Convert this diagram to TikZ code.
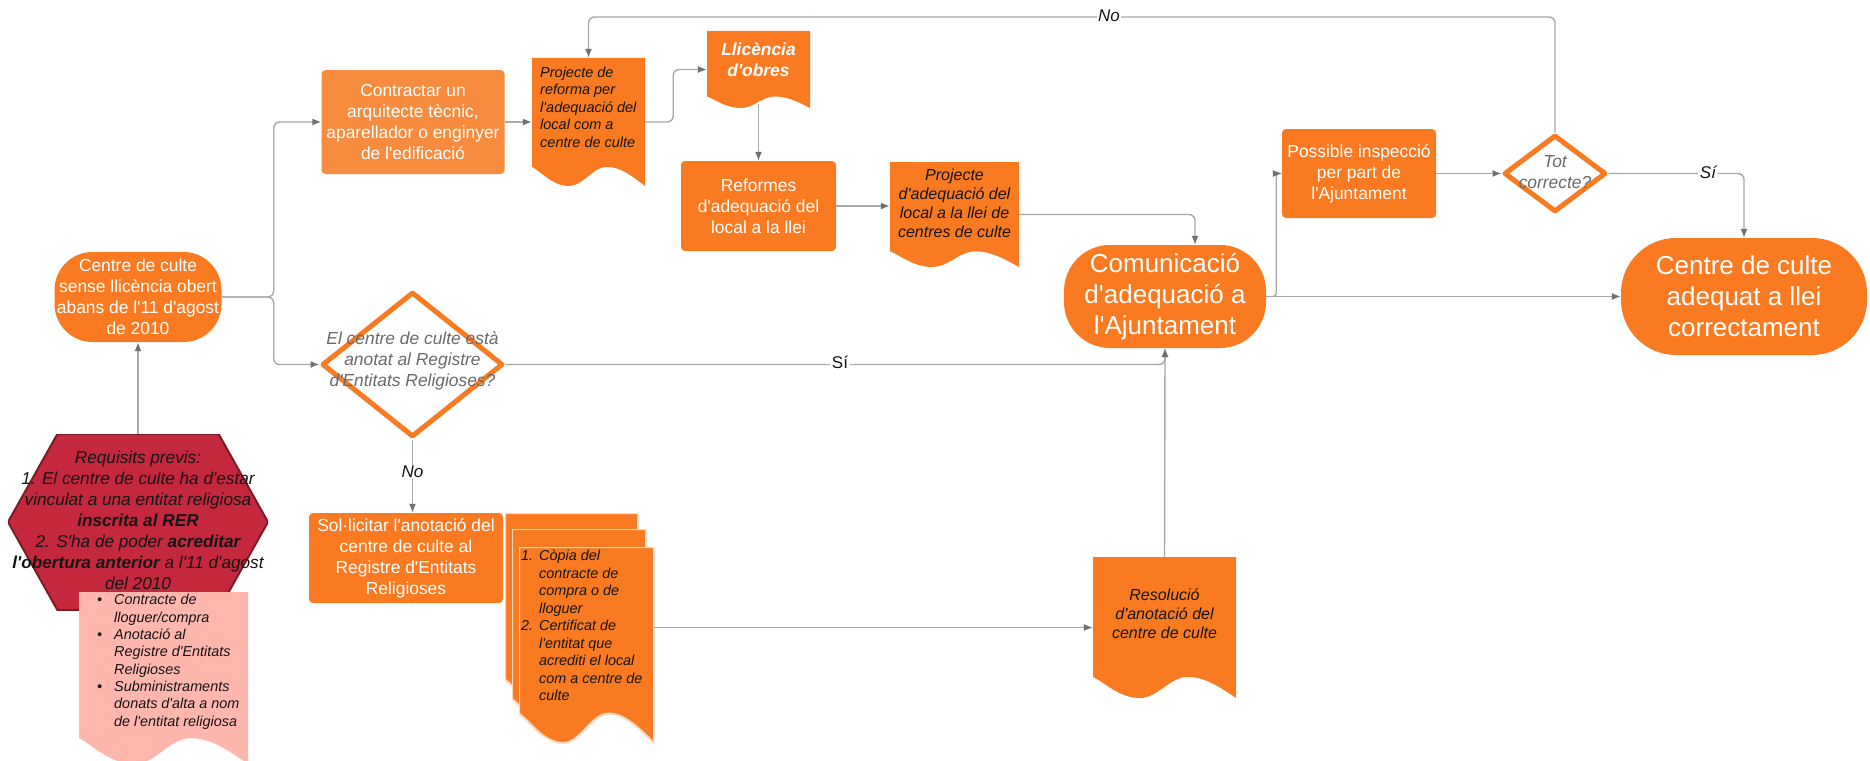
\documentclass[tikz,border=0pt]{standalone}
\usepackage{fontspec}
\setmainfont{Liberation Sans}
\newfontfamily\lsans{Liberation Sans}
\usetikzlibrary{shapes.geometric,arrows.meta,calc}
\definecolor{orM}{HTML}{F97A21}
\definecolor{orL}{HTML}{F78C3E}
\definecolor{hexred}{HTML}{C5283C}
\definecolor{hexdark}{HTML}{7D1A26}
\definecolor{pinkd}{HTML}{FFB6AD}
\definecolor{lineg}{HTML}{A8A8A8}
\definecolor{arrowg}{HTML}{6F6F6F}
\definecolor{txtg}{HTML}{6A6A6A}
\definecolor{txtd}{HTML}{141414}
\newcommand{\fs}[2]{\fontsize{#1}{#2}\selectfont}
\begin{document}
\begin{tikzpicture}[x=1pt,y=-1pt,
 font=\lsans\fs{17.4}{21},
 conn/.style={draw=lineg,line width=1.4pt,rounded corners=6pt,-{Latex[length=9pt,width=7pt,color=arrowg]}},
 box/.style={fill=orM,text=white,align=center,inner sep=0pt,rounded corners=4pt},
 term/.style={fill=orM,text=white,align=center,inner sep=0pt},
 dec/.style={diamond,draw=orM,line width=5pt,fill=white,inner sep=0pt,line join=round},
 dectext/.style={text=txtg,align=center,font=\lsans\itshape\fs{17.4}{21}},
 doc/.style={inner sep=0pt,path picture={\path[#1] let \p1=(path picture bounding box.south west), \p2=(path picture bounding box.north east), \n1={\x2-\x1}, \n2={0.15*(\y2-\y1)} in
   (\x1,\y2) -- (\x2,\y2) -- (\x2,\y1)
   .. controls ({\x2-0.12*\n1},{\y1+0.55*\n2}) and ({\x1+0.78*\n1},{\y1+\n2}) .. ({\x1+0.66*\n1},{\y1+\n2})
   .. controls ({\x1+0.54*\n1},{\y1+\n2}) and ({\x1+0.45*\n1},{\y1}) .. ({\x1+0.33*\n1},{\y1})
   .. controls ({\x1+0.18*\n1},{\y1}) and ({\x1+0.08*\n1},{\y1+0.75*\n2}) .. (\x1,{\y1+\n2}) -- cycle;}},
 doctext/.style={text=txtd,inner sep=0pt,font=\lsans\itshape\fs{14.5}{17.5}},
 lbl/.style={fill=white,inner sep=1.5pt,text=txtd},
 hexn/.style={inner sep=0pt,path picture={\filldraw[fill=hexred,draw=hexdark,line width=2pt] let \p1=(path picture bounding box.south west), \p2=(path picture bounding box.north east) in
   (\x1,{(\y1+\y2)/2}) -- ({\x1+0.19*(\x2-\x1)},\y2) -- ({\x2-0.19*(\x2-\x1)},\y2) -- (\x2,{(\y1+\y2)/2}) -- ({\x2-0.19*(\x2-\x1)},\y1) -- ({\x1+0.19*(\x2-\x1)},\y1) -- cycle;}},
]
\useasboundingbox (0,0) rectangle (1870,760);
\fill[white] (0,0) rectangle (1870,760);

% ---------- left column
\node[term,minimum width=167pt,minimum height=90pt,rounded corners=38pt] (start) at (138,297)
  {Centre de culte\\sense llicència obert\\abans de l'11 d'agost\\de 2010};
\node[hexn,minimum width=260pt,minimum height=176pt] (hex) at (138,522) {};
\node[text=txtd,align=center,inner sep=0pt,font=\lsans\itshape\fs{17.2}{21}] (hext) at (138,520)
  {Requisits previs:\\1. El centre de culte ha d'estar\\vinculat a una entitat religiosa\\\textbf{inscrita al RER}\\2. S'ha de poder \textbf{acreditar}\\\textbf{l'obertura anterior} a l'11 d'agost\\del 2010};
\node[doc={fill=pinkd},minimum width=169pt,minimum height=172pt] (pinkdoc) at (163.5,678) {};
\node[doctext,anchor=west,font=\lsans\itshape\fs{14.4}{17.3}] (pinkt) at (97,662)
  {\begin{tabular}{@{}l@{\hspace{12pt}}l@{}}
   \textbullet & Contracte de\\ & lloguer/compra\\
   \textbullet & Anotació al\\ & Registre d'Entitats\\ & Religioses\\
   \textbullet & Subministraments\\ & donats d'alta a nom\\ & de l'entitat religiosa
  \end{tabular}};

% ---------- upper branch
\node[box,fill=orL,minimum width=183pt,minimum height=104pt] (contr) at (413,122)
  {Contractar un\\arquitecte tècnic,\\aparellador o enginyer\\de l'edificació};
\node[doc={fill=orM},minimum width=113pt,minimum height=128pt] (refdoc) at (588.5,122) {};
\node[doctext,anchor=west,align=left] (refdoct) at (540,107)
  {Projecte de\\reforma per\\l'adequació del\\local com a\\centre de culte};
\node[doc={fill=orM},minimum width=103pt,minimum height=77pt] (llic) at (758.5,69.5) {};
\node[text=white,align=center,inner sep=0pt,font=\lsans\bfseries\itshape\fs{17.4}{21}] (llict) at (758.5,60) {Llicència\\d'obres};
\coordinate (llicb) at (758.5,104);
\node[box,minimum width=155pt,minimum height=90pt] (reform) at (758.5,206)
  {Reformes\\d'adequació del\\local a la llei};
\node[doc={fill=orM},minimum width=129pt,minimum height=105pt] (adqdoc) at (954.5,214.5) {};
\node[doctext,align=center,font=\lsans\itshape\fs{16}{19}] (adqdoct) at (954.5,203)
  {Projecte\\d'adequació del\\local a la llei de\\centres de culte};

% ---------- right part
\node[term,minimum width=202pt,minimum height=103pt,rounded corners=46pt,font=\lsans\fs{26}{31}] (com) at (1165,296.5)
  {Comunicació\\d'adequació a\\l'Ajuntament};
\node[box,minimum width=154pt,minimum height=89pt] (poss) at (1359,173.5)
  {Possible inspecció\\per part de\\l'Ajuntament};
\node[dec,minimum width=102pt,minimum height=77pt] (tot) at (1555,173.5) {};
\node[dectext,inner sep=0pt] (tott) at (1555,172) {Tot\\correcte?};
\node[term,minimum width=246pt,minimum height=117pt,rounded corners=55pt,font=\lsans\fs{26}{31}] (cent) at (1744,296.5)
  {Centre de culte\\adequat a llei\\correctament};

% ---------- lower branch
\node[dec,minimum width=181pt,minimum height=145pt] (d1) at (412.5,364.5) {};
\node[dectext,inner sep=0pt] (d1t) at (412.5,361)
  {El centre de culte està\\anotat al Registre\\d'Entitats Religioses?};
\node[box,minimum width=194pt,minimum height=90pt] (sol) at (406,558)
  {Sol·licitar l'anotació del\\centre de culte al\\Registre d'Entitats\\Religioses};
\node[doc={fill=orM,draw=white!70!orM,line width=2pt},minimum width=133pt,minimum height=196pt] (mdA) at (571.5,611) {};
\node[doc={fill=orM,draw=white!70!orM,line width=2pt},minimum width=134pt,minimum height=200pt] (mdB) at (579,629) {};
\node[doc={fill=orM,draw=white!70!orM,line width=2pt},minimum width=135pt,minimum height=196pt] (mdC) at (586.5,645) {};
\node[doctext,anchor=west,font=\lsans\itshape\fs{14.4}{17.5}] (mdCt) at (521,627)
  {\begin{tabular}{@{}l@{\hspace{6pt}}l@{}}
   1. & Còpia del\\ & contracte de\\ & compra o de\\ & lloguer\\
   2. & Certificat de\\ & l'entitat que\\ & acrediti el local\\ & com a centre de\\ & culte
  \end{tabular}};
\node[doc={fill=orM},minimum width=143pt,minimum height=141pt] (res) at (1164.5,627.5) {};
\node[doctext,align=center,font=\lsans\itshape\fs{16}{19}] (rest) at (1164.5,614)
  {Resolució\\d'anotació del\\centre de culte};

\coordinate (topline) at (0,17);

% ---------- connectors
\draw[conn] (hex.north) -- (start.south);
\draw[conn] (start.east) -- ++(52,0) |- (contr.west);
\draw[conn] (start.east) -- ++(52,0) |- (d1.west);
\draw[conn] (contr.east) -- (refdoc.west);
\draw[conn] (refdoc.east) -- ++(28,0) |- (llic.west);
\draw[conn] (llicb) -- (reform.north);
\draw[conn] (reform.east) -- (reform.east -| adqdoc.west);
\draw[conn] (adqdoc.east) -| ([xshift=30pt]com.north);
\draw[conn,rounded corners=3pt] (com.east) -- ++(10,0) |- (poss.west);
\draw[conn] (com.east) -- (cent.west);
\draw[conn] (poss.east) -- (tot.west);
\draw[conn] (tot.east) -| (cent.north);
\draw[conn] (tot.north) -- (tot.north |- topline) -| (refdoc.north);
\draw[conn] (d1.east) -| (com.south);
\draw[conn] (d1.south) -- (d1.south |- sol.north);
\draw[conn] (mdC.east |- res.west) -- (res.west);
\draw[conn] (res.north) -- (com.south);

% ---------- labels
\node[lbl,font=\lsans\itshape\fs{17}{20}] (noTop) at (1109,16) {No};
\node[lbl,font=\lsans\itshape\fs{17}{20}] (siRight) at (1708,172) {Sí};
\node[lbl,font=\lsans\fs{17}{20}] (siMid) at (840,362) {Sí};
\node[lbl,font=\lsans\itshape\fs{17}{20}] (noLow) at (412.5,472) {No};
\end{tikzpicture}
\end{document}
